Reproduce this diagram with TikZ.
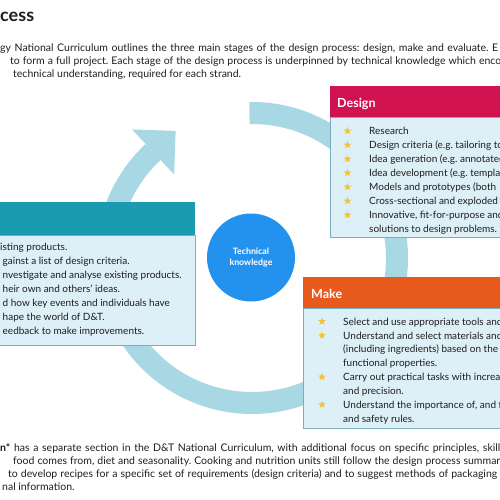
\documentclass[tikz,border=0pt]{standalone}
\usepackage{fontspec}
\setmainfont{Lato}
\usetikzlibrary{shapes.geometric}
\frenchspacing
\definecolor{arcblue}{HTML}{A8D8E3}
\definecolor{designred}{HTML}{D01250}
\definecolor{evalteal}{HTML}{1B9BAF}
\definecolor{makeorange}{HTML}{E85A1B}
\definecolor{bodyblue}{HTML}{DDEFF7}
\definecolor{bordblue}{HTML}{78ADC2}
\definecolor{techblue}{HTML}{2392EE}
\definecolor{starg}{HTML}{F2C236}
\definecolor{txt}{HTML}{1E1E1E}
\begin{document}
\frenchspacing
\begin{tikzpicture}[x=1pt,y=1pt,
  para/.style={anchor=base west, inner sep=0pt, font=\fontsize{10.5}{13}\selectfont\frenchspacing, text=txt},
  item/.style={anchor=base west, inner sep=0pt, font=\fontsize{10.0}{13}\selectfont, text=txt},
  hdrbox/.style={anchor=north west, inner sep=0pt, draw=none},
  bodybox/.style={anchor=north west, inner sep=0pt, fill=bodyblue, draw=bordblue, line width=0.8pt},
  hdrtxt/.style={anchor=base west, inner sep=0pt, text=white, font=\fontsize{12.5}{14}\selectfont\bfseries},
  staricon/.style={star, star points=5, star point ratio=2.4, fill=starg, inner sep=0pt, minimum size=8pt},
  cyclearc/.style={draw=arcblue, line width=22pt, line cap=butt}
]
\useasboundingbox (0,0) rectangle (500,499);
\clip (0,0) rectangle (500,499);

% title and intro
\node[anchor=base west, inner sep=0pt, font=\fontsize{18}{21}\selectfont\bfseries, text=txt] (title) at (0,477) {cess};
\node[para] (p1) at (0,447.5) {\makebox[498pt][s]{gy National Curriculum outlines the three main stages of the design process: design, make and evaluate. E}};
\node[para] (p2) at (10,434) {\makebox[491pt][s]{to form a full project. Each stage of the design process is underpinned by technical knowledge which enco}};
\node[para] (p3) at (13,421) {technical understanding, required for each strand.};

% cycle arrows
\coordinate (cyc) at (252,241);
\draw[cyclearc] ([shift={(91:145)}]cyc) arc[start angle=91, end angle=-150, radius=145];
\draw[cyclearc] ([shift={(170:145)}]cyc) arc[start angle=170, end angle=133, radius=145];
\coordinate (ab) at ([shift={(133:145)}]cyc);
\fill[arcblue] ([shift={(133:30.8)}]ab) -- ([shift={(313:30.8)}]ab) -- ([shift={(43:30.8)}]ab) -- cycle;

% Design box
\node[bodybox, minimum width=180pt, minimum height=120pt] (db) at (330,382) {};
\node[hdrbox, fill=designred, minimum width=180pt, minimum height=31pt] (dh) at (330,413) {};
\node[hdrtxt] (dt) at (337,391.5) {Design};
\foreach \yy [count=\i] in {368,354,340,326,312,298,284} {\node[staricon] (ds\i) at (347.5,\yy) {};}
\node[item] (d1) at (369,364.3) {Research};
\node[item] (d2) at (369,350.3) {Design criteria (e.g. tailoring to};
\node[item] (d3) at (369,336.3) {Idea generation (e.g. annotated};
\node[item] (d4) at (369,322.3) {Idea development (e.g. templa};
\node[item] (d5) at (369,308.3) {Models and prototypes (both};
\node[item] (d6) at (369,294.3) {Cross-sectional and exploded};
\node[item] (d7) at (369,280.3) {Innovative, fit-for-purpose and};
\node[item] (d8) at (369,266.3) {solutions to design problems.};

% Evaluate box
\node[bodybox, minimum width=205pt, minimum height=110pt] (eb) at (-10,264) {};
\node[hdrbox, fill=evalteal, minimum width=205pt, minimum height=33pt] (eh) at (-10,297) {};
\node[item] (e1) at (0,248.3) {isting products.};
\node[item] (e2) at (2.5,234.3) {gainst a list of design criteria.};
\node[item] (e3) at (2.5,220.3) {nvestigate and analyse existing products.};
\node[item] (e4) at (2.5,206.3) {heir own and others’ ideas.};
\node[item] (e5) at (2.5,192.3) {d how key events and individuals have};
\node[item] (e6) at (2.5,178.3) {hape the world of D\&T.};
\node[item] (e7) at (2.5,164.3) {eedback to make improvements.};

% Make box
\node[bodybox, minimum width=207pt, minimum height=120pt] (mb) at (303,191) {};
\node[hdrbox, fill=makeorange, minimum width=207pt, minimum height=31pt] (mh) at (303,222) {};
\node[hdrtxt] (mt) at (311,201) {Make};
\foreach \yy [count=\i] in {177.5,163.65,122.1,94.4} {\node[staricon] (ms\i) at (322,\yy) {};}
\node[item] (m1) at (343,173.8) {Select and use appropriate tools and};
\node[item] (m2) at (343,159.95) {Understand and select materials and};
\node[item] (m3) at (343,146.1) {(including ingredients) based on the};
\node[item] (m4) at (343,132.25) {functional properties.};
\node[item] (m5) at (343,118.4) {Carry out practical tasks with increa};
\node[item] (m6) at (343,104.55) {and precision.};
\node[item] (m7) at (343,90.7) {Understand the importance of, and f};
\node[item] (m8) at (343,76.85) {and safety rules.};

% Technical knowledge
\node[circle, fill=techblue, minimum size=88pt, inner sep=0pt, text=white, align=center,
      font=\fontsize{8.8}{11}\selectfont\bfseries] (tk) at (251,241.5) {Technical\\knowledge};

% bottom paragraph
\node[para] (b1) at (0,47.5) {\makebox[500pt][s]{{\bfseries n*} has a separate section in the D\&T National Curriculum, with additional focus on specific principles, skill}};
\node[para] (b2) at (13,34.5) {\makebox[487pt][s]{food comes from, diet and seasonality. Cooking and nutrition units still follow the design process summar}};
\node[para] (b3) at (8,21.5) {\makebox[489pt][s]{to develop recipes for a specific set of requirements (design criteria) and to suggest methods of packaging}};
\node[para] (b4) at (2,8.5) {nal information.};
\end{tikzpicture}
\end{document}
